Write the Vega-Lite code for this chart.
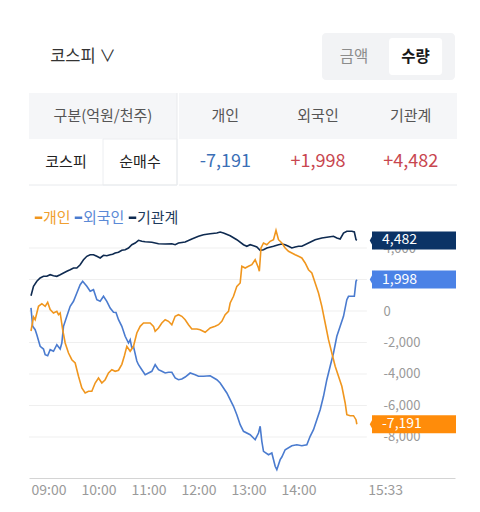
{
  "$schema": "https://vega.github.io/schema/vega-lite/v6.json",
  "background": "white",
  "padding": {"left": 27, "top": 33, "right": 0, "bottom": 0},
  "config": {"view": {"stroke": null}, "font": "Noto Sans CJK KR"},
  "datasets": {
    "flows": [
      {"series":"기관계","t":0,"v":970},{"series":"기관계","t":3,"v":1568},{"series":"기관계","t":7,"v":1886},{"series":"기관계","t":11,"v":2096},{"series":"기관계","t":15,"v":2203},{"series":"기관계","t":19,"v":2203},{"series":"기관계","t":23,"v":2305},{"series":"기관계","t":27,"v":2242},{"series":"기관계","t":31,"v":2203},{"series":"기관계","t":35,"v":2305},{"series":"기관계","t":39,"v":2413},{"series":"기관계","t":43,"v":2521},{"series":"기관계","t":47,"v":2623},{"series":"기관계","t":51,"v":2731},{"series":"기관계","t":55,"v":2731},{"series":"기관계","t":59,"v":2940},{"series":"기관계","t":63,"v":3258},{"series":"기관계","t":67,"v":3473},{"series":"기관계","t":71,"v":3575},{"series":"기관계","t":75,"v":3575},{"series":"기관계","t":79,"v":3473},{"series":"기관계","t":83,"v":3366},{"series":"기관계","t":87,"v":3537},{"series":"기관계","t":91,"v":3512},{"series":"기관계","t":95,"v":3575},{"series":"기관계","t":98,"v":3600},{"series":"기관계","t":101,"v":3683},{"series":"기관계","t":105,"v":3727},{"series":"기관계","t":109,"v":3854},{"series":"기관계","t":113,"v":3893},{"series":"기관계","t":117,"v":4000},{"series":"기관계","t":121,"v":4210},{"series":"기관계","t":125,"v":4318},{"series":"기관계","t":129,"v":4489},{"series":"기관계","t":133,"v":4426},{"series":"기관계","t":137,"v":4400},{"series":"기관계","t":145,"v":4362},{"series":"기관계","t":153,"v":4274},{"series":"기관계","t":161,"v":4254},{"series":"기관계","t":169,"v":4274},{"series":"기관계","t":173,"v":4210},{"series":"기관계","t":177,"v":4318},{"series":"기관계","t":185,"v":4381},{"series":"기관계","t":193,"v":4572},{"series":"기관계","t":201,"v":4743},{"series":"기관계","t":207,"v":4845},{"series":"기관계","t":215,"v":4908},{"series":"기관계","t":223,"v":4953},{"series":"기관계","t":227,"v":5016},{"series":"기관계","t":231,"v":4953},{"series":"기관계","t":239,"v":4782},{"series":"기관계","t":247,"v":4528},{"series":"기관계","t":255,"v":4210},{"series":"기관계","t":259,"v":4108},{"series":"기관계","t":263,"v":4210},{"series":"기관계","t":267,"v":4146},{"series":"기관계","t":271,"v":4064},{"series":"기관계","t":275,"v":3854},{"series":"기관계","t":279,"v":3893},{"series":"기관계","t":283,"v":4000},{"series":"기관계","t":291,"v":4108},{"series":"기관계","t":297,"v":4210},{"series":"기관계","t":301,"v":4254},{"series":"기관계","t":305,"v":4210},{"series":"기관계","t":309,"v":4108},{"series":"기관계","t":313,"v":4000},{"series":"기관계","t":317,"v":4064},{"series":"기관계","t":321,"v":4108},{"series":"기관계","t":325,"v":4108},{"series":"기관계","t":333,"v":4318},{"series":"기관계","t":341,"v":4528},{"series":"기관계","t":349,"v":4636},{"series":"기관계","t":357,"v":4699},{"series":"기관계","t":363,"v":4743},{"series":"기관계","t":367,"v":4636},{"series":"기관계","t":371,"v":4572},{"series":"기관계","t":375,"v":4953},{"series":"기관계","t":379,"v":5061},{"series":"기관계","t":385,"v":5061},{"series":"기관계","t":388,"v":5016},{"series":"기관계","t":390,"v":4528},{"series":"기관계","t":391,"v":4482},
      {"series":"외국인","t":0,"v":200},{"series":"외국인","t":2,"v":-972},{"series":"외국인","t":5,"v":-1187},{"series":"외국인","t":7,"v":-1505},{"series":"외국인","t":11,"v":-2242},{"series":"외국인","t":15,"v":-2413},{"series":"외국인","t":17,"v":-2775},{"series":"외국인","t":20,"v":-2838},{"series":"외국인","t":23,"v":-2457},{"series":"외국인","t":27,"v":-2559},{"series":"외국인","t":31,"v":-2140},{"series":"외국인","t":35,"v":-2413},{"series":"외국인","t":37,"v":-2032},{"series":"외국인","t":39,"v":-972},{"series":"외국인","t":43,"v":-337},{"series":"외국인","t":47,"v":298},{"series":"외국인","t":51,"v":616},{"series":"외국인","t":55,"v":1143},{"series":"외국인","t":59,"v":1670},{"series":"외국인","t":62,"v":1886},{"series":"외국인","t":67,"v":1568},{"series":"외국인","t":71,"v":1251},{"series":"외국인","t":75,"v":1353},{"series":"외국인","t":79,"v":718},{"series":"외국인","t":83,"v":616},{"series":"외국인","t":87,"v":933},{"series":"외국인","t":91,"v":616},{"series":"외국인","t":95,"v":190},{"series":"외국인","t":99,"v":-83},{"series":"외국인","t":102,"v":-95},{"series":"외국인","t":105,"v":-552},{"series":"외국인","t":109,"v":-972},{"series":"외국인","t":113,"v":-1607},{"series":"외국인","t":117,"v":-2032},{"series":"외국인","t":119,"v":-1822},{"series":"외국인","t":121,"v":-2350},{"series":"외국인","t":123,"v":-2254},{"series":"외국인","t":127,"v":-3175},{"series":"외국인","t":129,"v":-3410},{"series":"외국인","t":133,"v":-3727},{"series":"외국인","t":137,"v":-4045},{"series":"외국인","t":141,"v":-3937},{"series":"외국인","t":145,"v":-3829},{"series":"외국인","t":149,"v":-3410},{"series":"외국인","t":153,"v":-3727},{"series":"외국인","t":157,"v":-3829},{"series":"외국인","t":161,"v":-3937},{"series":"외국인","t":165,"v":-3893},{"series":"외국인","t":169,"v":-3893},{"series":"외국인","t":173,"v":-4255},{"series":"외국인","t":177,"v":-4362},{"series":"외국인","t":181,"v":-4318},{"series":"외국인","t":185,"v":-4191},{"series":"외국인","t":191,"v":-3937},{"series":"외국인","t":197,"v":-4045},{"series":"외국인","t":201,"v":-4147},{"series":"외국인","t":207,"v":-4147},{"series":"외국인","t":215,"v":-4108},{"series":"외국인","t":223,"v":-4362},{"series":"외국인","t":227,"v":-4572},{"series":"외국인","t":231,"v":-4890},{"series":"외국인","t":235,"v":-5207},{"series":"외국인","t":239,"v":-5632},{"series":"외국인","t":243,"v":-6052},{"series":"외국인","t":247,"v":-6585},{"series":"외국인","t":251,"v":-7220},{"series":"외국인","t":255,"v":-7639},{"series":"외국인","t":263,"v":-7855},{"series":"외국인","t":269,"v":-8172},{"series":"외국인","t":273,"v":-7747},{"series":"외국인","t":275,"v":-7322},{"series":"외국인","t":277,"v":-8274},{"series":"외국인","t":279,"v":-8909},{"series":"외국인","t":285,"v":-9125},{"series":"외국인","t":289,"v":-9017},{"series":"외국인","t":293,"v":-9862},{"series":"외국인","t":295,"v":-10077},{"series":"외국인","t":299,"v":-9442},{"series":"외국인","t":301,"v":-9271},{"series":"외국인","t":305,"v":-8807},{"series":"외국인","t":313,"v":-8553},{"series":"외국인","t":319,"v":-8490},{"series":"외국인","t":325,"v":-8553},{"series":"외국인","t":331,"v":-8490},{"series":"외국인","t":335,"v":-7957},{"series":"외국인","t":339,"v":-7537},{"series":"외국인","t":343,"v":-6902},{"series":"외국인","t":347,"v":-6267},{"series":"외국인","t":351,"v":-5417},{"series":"외국인","t":355,"v":-4362},{"series":"외국인","t":359,"v":-3512},{"series":"외국인","t":363,"v":-2667},{"series":"외국인","t":367,"v":-1607},{"series":"외국인","t":371,"v":-972},{"series":"외국인","t":375,"v":-337},{"series":"외국인","t":379,"v":718},{"series":"외국인","t":381,"v":933},{"series":"외국인","t":388,"v":933},{"series":"외국인","t":390,"v":1886},{"series":"외국인","t":391,"v":1998},
      {"series":"개인","t":0,"v":-1270},{"series":"개인","t":3,"v":-381},{"series":"개인","t":5,"v":-552},{"series":"개인","t":9,"v":298},{"series":"개인","t":13,"v":464},{"series":"개인","t":17,"v":298},{"series":"개인","t":20,"v":552},{"series":"개인","t":23,"v":95},{"series":"개인","t":27,"v":-127},{"series":"개인","t":31,"v":-19},{"series":"개인","t":33,"v":-235},{"series":"개인","t":35,"v":-127},{"series":"개인","t":38,"v":-1187},{"series":"개인","t":41,"v":-2032},{"series":"개인","t":45,"v":-2667},{"series":"개인","t":49,"v":-3092},{"series":"개인","t":53,"v":-3302},{"series":"개인","t":57,"v":-4147},{"series":"개인","t":61,"v":-4890},{"series":"개인","t":65,"v":-5207},{"series":"개인","t":69,"v":-5099},{"series":"개인","t":73,"v":-5099},{"series":"개인","t":77,"v":-4572},{"series":"개인","t":81,"v":-4255},{"series":"개인","t":85,"v":-4572},{"series":"개인","t":89,"v":-4362},{"series":"개인","t":93,"v":-3937},{"series":"개인","t":97,"v":-3727},{"series":"개인","t":101,"v":-3829},{"series":"개인","t":105,"v":-3760},{"series":"개인","t":109,"v":-3385},{"series":"개인","t":112,"v":-2858},{"series":"개인","t":115,"v":-2242},{"series":"개인","t":119,"v":-2559},{"series":"개인","t":123,"v":-2242},{"series":"개인","t":127,"v":-1397},{"series":"개인","t":131,"v":-972},{"series":"개인","t":135,"v":-762},{"series":"개인","t":139,"v":-762},{"series":"개인","t":143,"v":-762},{"series":"개인","t":147,"v":-972},{"series":"개인","t":149,"v":-1289},{"series":"개인","t":153,"v":-1080},{"series":"개인","t":157,"v":-762},{"series":"개인","t":161,"v":-552},{"series":"개인","t":165,"v":-654},{"series":"개인","t":169,"v":-870},{"series":"개인","t":173,"v":-337},{"series":"개인","t":177,"v":-235},{"series":"개인","t":181,"v":-337},{"series":"개인","t":185,"v":-552},{"series":"개인","t":189,"v":-870},{"series":"개인","t":193,"v":-1143},{"series":"개인","t":199,"v":-1143},{"series":"개인","t":203,"v":-1187},{"series":"개인","t":209,"v":-1353},{"series":"개인","t":215,"v":-1080},{"series":"개인","t":221,"v":-972},{"series":"개인","t":225,"v":-870},{"series":"개인","t":229,"v":-654},{"series":"개인","t":233,"v":-235},{"series":"개인","t":237,"v":-19},{"series":"개인","t":239,"v":508},{"series":"개인","t":243,"v":933},{"series":"개인","t":247,"v":1568},{"series":"개인","t":251,"v":1778},{"series":"개인","t":253,"v":2838},{"series":"개인","t":257,"v":2731},{"series":"개인","t":261,"v":2838},{"series":"개인","t":265,"v":2940},{"series":"개인","t":269,"v":3258},{"series":"개인","t":273,"v":2731},{"series":"개인","t":274,"v":2521},{"series":"개인","t":276,"v":4000},{"series":"개인","t":279,"v":4318},{"series":"개인","t":283,"v":4210},{"series":"개인","t":287,"v":4426},{"series":"개인","t":291,"v":4528},{"series":"개인","t":294,"v":5124},{"series":"개인","t":297,"v":4528},{"series":"개인","t":301,"v":4318},{"series":"개인","t":305,"v":4000},{"series":"개인","t":309,"v":3791},{"series":"개인","t":313,"v":3683},{"series":"개인","t":317,"v":3575},{"series":"개인","t":321,"v":3473},{"series":"개인","t":325,"v":3366},{"series":"개인","t":329,"v":3048},{"series":"개인","t":333,"v":2623},{"series":"개인","t":337,"v":2413},{"series":"개인","t":341,"v":1778},{"series":"개인","t":345,"v":1143},{"series":"개인","t":349,"v":298},{"series":"개인","t":353,"v":-762},{"series":"개인","t":357,"v":-1822},{"series":"개인","t":361,"v":-2667},{"series":"개인","t":365,"v":-3512},{"series":"개인","t":369,"v":-4147},{"series":"개인","t":373,"v":-4782},{"series":"개인","t":377,"v":-5842},{"series":"개인","t":379,"v":-6585},{"series":"개인","t":383,"v":-6648},{"series":"개인","t":387,"v":-6648},{"series":"개인","t":390,"v":-6902},{"series":"개인","t":391,"v":-7191}
    ],
    "tags": [
      {"series":"기관계","v":4482,"label":"4,482"},
      {"series":"외국인","v":1998,"label":"1,998"},
      {"series":"개인","v":-7191,"label":"-7,191"}
    ]
  },
  "spacing": 12,
  "resolve": {"scale": {"x": "independent", "y": "independent", "color": "independent", "fill": "independent"}, "legend": {"color": "independent", "fill": "independent"}},
  "vconcat": [
    {
      "spacing": 185,
      "resolve": {"scale": {"x": "independent", "y": "independent"}},
      "hconcat": [
        {
          "width": 108, "height": 47,
          "data": {"values": [{"label": "코스피 ∨"}]},
          "mark": {"type": "text", "fontSize": 16.5, "color": "#333333"},
          "encoding": {"text": {"field": "label", "type": "nominal"}}
        },
        {
          "width": 133, "height": 47,
          "view": {"fill": "#f2f3f5", "stroke": null, "cornerRadius": 4},
          "data": {"values": [{"opt": "금액", "row": "r", "on": 0}, {"opt": "수량", "row": "r", "on": 1}]},
          "encoding": {
            "x": {"field": "opt", "type": "nominal", "axis": null, "scale": {"domain": ["금액", "수량"], "paddingInner": 0.138, "paddingOuter": 0.15, "align": 0.3}},
            "y": {"field": "row", "type": "nominal", "axis": null, "scale": {"domain": ["r"], "paddingInner": 0, "paddingOuter": 0.135}}
          },
          "layer": [
            {"transform": [{"filter": "datum.on == 1"}], "mark": {"type": "rect", "fill": "white", "cornerRadius": 3}},
            {"transform": [{"filter": "datum.on == 0"}], "mark": {"type": "text", "fontSize": 15.5, "color": "#8c8c8c"}, "encoding": {"text": {"field": "opt"}}},
            {"transform": [{"filter": "datum.on == 1"}], "mark": {"type": "text", "fontSize": 15.5, "fontWeight": "bold", "color": "#1a1a1a"}, "encoding": {"text": {"field": "opt"}}}
          ]
        }
      ]
    },
    {
      "spacing": 24,
      "resolve": {"scale": {"x": "independent", "y": "independent", "color": "independent", "fill": "independent"}, "legend": {"color": "independent", "fill": "independent"}},
      "vconcat": [
        {
          "spacing": 0,
          "resolve": {"scale": {"x": "independent", "y": "independent"}},
          "hconcat": [
            {
              "width": 148, "height": 92,
              "layer": [
                {"data": {"values": [{"row": "h"}]}, "mark": {"type": "rect", "fill": "#f5f6f8"},
                 "encoding": {"y": {"field": "row", "type": "nominal", "axis": null, "scale": {"domain": ["h", "d"], "paddingInner": 0, "paddingOuter": 0}}}},
                {"data": {"values": [{"row": "d", "col": "순매수"}]}, "mark": {"type": "rect", "fill": "white", "stroke": "#eceef1", "strokeWidth": 1},
                 "encoding": {
                   "x": {"field": "col", "type": "nominal", "axis": null, "scale": {"domain": ["코스피", "순매수"], "paddingInner": 0, "paddingOuter": 0}},
                   "y": {"field": "row", "type": "nominal", "axis": null, "scale": {"domain": ["h", "d"], "paddingInner": 0, "paddingOuter": 0}}}},
                {"data": {"values": [{"row": "h", "label": "구분(억원/천주)"}]}, "mark": {"type": "text", "fontSize": 15, "color": "#555555"},
                 "encoding": {
                   "y": {"field": "row", "type": "nominal", "axis": null, "scale": {"domain": ["h", "d"], "paddingInner": 0, "paddingOuter": 0}},
                   "text": {"field": "label"}}},
                {"data": {"values": [{"row": "d", "col": "코스피", "label": "코스피"}, {"row": "d", "col": "순매수", "label": "순매수"}]},
                 "mark": {"type": "text", "fontSize": 15, "color": "#222222"},
                 "encoding": {
                   "x": {"field": "col", "type": "nominal", "axis": null, "scale": {"domain": ["코스피", "순매수"], "paddingInner": 0, "paddingOuter": 0}},
                   "y": {"field": "row", "type": "nominal", "axis": null, "scale": {"domain": ["h", "d"], "paddingInner": 0, "paddingOuter": 0}},
                   "text": {"field": "label"}}},
                {"data": {"values": [{"row": "d"}]}, "mark": {"type": "rule", "color": "#e8eaed"},
                 "encoding": {"y": {"field": "row", "type": "nominal", "bandPosition": 1, "axis": null, "scale": {"domain": ["h", "d"], "paddingInner": 0, "paddingOuter": 0}}}},
                {"data": {"values": [{"col": "순매수"}]}, "mark": {"type": "rule", "color": "#e8eaed"},
                 "encoding": {"x": {"field": "col", "type": "nominal", "bandPosition": 1, "axis": null, "scale": {"domain": ["코스피", "순매수"], "paddingInner": 0, "paddingOuter": 0}}}}
              ]
            },
            {
              "width": 278, "height": 92,
              "layer": [
                {"data": {"values": [{"row": "h"}]}, "mark": {"type": "rect", "fill": "#f5f6f8"},
                 "encoding": {"y": {"field": "row", "type": "nominal", "axis": null, "scale": {"domain": ["h", "d"], "paddingInner": 0, "paddingOuter": 0}}}},
                {"data": {"values": [{"row": "h", "col": "개인"}, {"row": "h", "col": "외국인"}, {"row": "h", "col": "기관계"}]},
                 "mark": {"type": "text", "fontSize": 15, "color": "#555555"},
                 "encoding": {
                   "x": {"field": "col", "type": "nominal", "axis": null, "scale": {"domain": ["개인", "외국인", "기관계"], "paddingInner": 0, "paddingOuter": 0}},
                   "y": {"field": "row", "type": "nominal", "axis": null, "scale": {"domain": ["h", "d"], "paddingInner": 0, "paddingOuter": 0}},
                   "text": {"field": "col"}}},
                {"data": {"values": [{"row": "d", "col": "개인", "label": "-7,191", "up": 0}, {"row": "d", "col": "외국인", "label": "+1,998", "up": 1}, {"row": "d", "col": "기관계", "label": "+4,482", "up": 1}]},
                 "mark": {"type": "text", "fontSize": 18},
                 "encoding": {
                   "x": {"field": "col", "type": "nominal", "axis": null, "scale": {"domain": ["개인", "외국인", "기관계"], "paddingInner": 0, "paddingOuter": 0}},
                   "y": {"field": "row", "type": "nominal", "axis": null, "scale": {"domain": ["h", "d"], "paddingInner": 0, "paddingOuter": 0}},
                   "text": {"field": "label"},
                   "color": {"condition": {"test": "datum.up == 1", "value": "#c8464f"}, "value": "#3b6fb6"}}},
                {"data": {"values": [{"row": "d"}]}, "mark": {"type": "rule", "color": "#e8eaed"},
                 "encoding": {"y": {"field": "row", "type": "nominal", "bandPosition": 1, "axis": null, "scale": {"domain": ["h", "d"], "paddingInner": 0, "paddingOuter": 0}}}}
              ]
            }
          ]
        },
        {
          "width": 426, "height": 251,
          "encoding": {
            "y": {"field": "v", "type": "quantitative", "scale": {"domain": [-10604, 5334], "nice": false, "zero": false},
                  "axis": {"orient": "right", "offset": -88, "values": [-8000, -6000, -4000, -2000, 0, 2000, 4000], "labelExpr": "replace(format(datum.value, ','), '−', '-')", "domain": false, "ticks": false, "grid": false, "labelColor": "#9a9a9a", "labelFontSize": 13, "labelPadding": 16, "title": null}}
          },
          "layer": [
            {
              "data": {"values": [{"v": 4000}, {"v": 2000}, {"v": 0}, {"v": -2000}, {"v": -4000}, {"v": -6000}, {"v": -8000}]},
              "mark": {"type": "rule", "color": "#efefef", "strokeWidth": 1},
              "encoding": {"x": {"datum": -2.4, "type": "quantitative", "scale": {"domain": [-2.4, 508.8], "nice": false, "zero": false}}, "x2": {"datum": 403}}
            },
            {
              "data": {"name": "flows"},
              "mark": {"type": "line", "strokeWidth": 1.6},
              "encoding": {
                "x": {"field": "t", "type": "quantitative", "scale": {"domain": [-2.4, 508.8], "nice": false, "zero": false},
                  "axis": {"values": [0, 60, 120, 180, 240, 300, 404], "labelExpr": "datum.value > 330 ? '15:33' : ((datum.value < 60 ? '09' : '' + (9 + datum.value / 60)) + ':00')", "grid": false, "ticks": false, "domainColor": "#d4d4d4", "labelColor": "#9a9a9a", "labelFontSize": 14, "labelAlign": "left", "labelPadding": 5, "labelFlush": false, "labelOverlap": false, "labelBound": false, "title": null}},
                "color": {"field": "series", "type": "nominal",
                  "scale": {"domain": ["개인", "외국인", "기관계"], "range": ["#f0961e", "#4a7bcf", "#0e2a50"]},
                  "legend": {"orient": "none", "legendX": 2, "legendY": -17, "direction": "horizontal", "title": null, "symbolType": "stroke", "symbolSize": 56, "symbolStrokeWidth": 2.5, "labelFontSize": 15, "labelOffset": -3, "columnPadding": -2, "padding": 0,
                    "labelColor": {"expr": "datum.label == '개인' ? '#f0a030' : (datum.label == '외국인' ? '#5b8ad6' : '#1d3a5c')"}}}
              }
            },
            {
              "data": {"name": "tags"},
              "mark": {"type": "tick", "orient": "horizontal", "size": 84, "thickness": 18, "opacity": 1},
              "encoding": {
                "x": {"datum": 459.6, "type": "quantitative", "scale": {"domain": [-2.4, 508.8], "nice": false, "zero": false}},
                "fill": {"field": "series", "type": "nominal", "scale": {"domain": ["개인", "외국인", "기관계"], "range": ["#ff8c0a", "#4b82e6", "#0b3366"]}, "legend": null}
              }
            },
            {
              "data": {"name": "tags"},
              "mark": {"type": "point", "shape": "M0.3,-1L-0.25,0L0.3,1Z", "size": 324, "filled": true, "opacity": 1},
              "encoding": {
                "x": {"datum": 409.2, "type": "quantitative", "scale": {"domain": [-2.4, 508.8], "nice": false, "zero": false}},
                "fill": {"field": "series", "type": "nominal", "scale": {"domain": ["개인", "외국인", "기관계"], "range": ["#ff8c0a", "#4b82e6", "#0b3366"]}, "legend": null}
              }
            },
            {
              "data": {"name": "tags"},
              "mark": {"type": "text", "align": "left", "baseline": "middle", "color": "white", "fontSize": 14},
              "encoding": {
                "x": {"datum": 421.2, "type": "quantitative", "scale": {"domain": [-2.4, 508.8], "nice": false, "zero": false}},
                "text": {"field": "label"}
              }
            }
          ]
        }
      ]
    }
  ]
}
